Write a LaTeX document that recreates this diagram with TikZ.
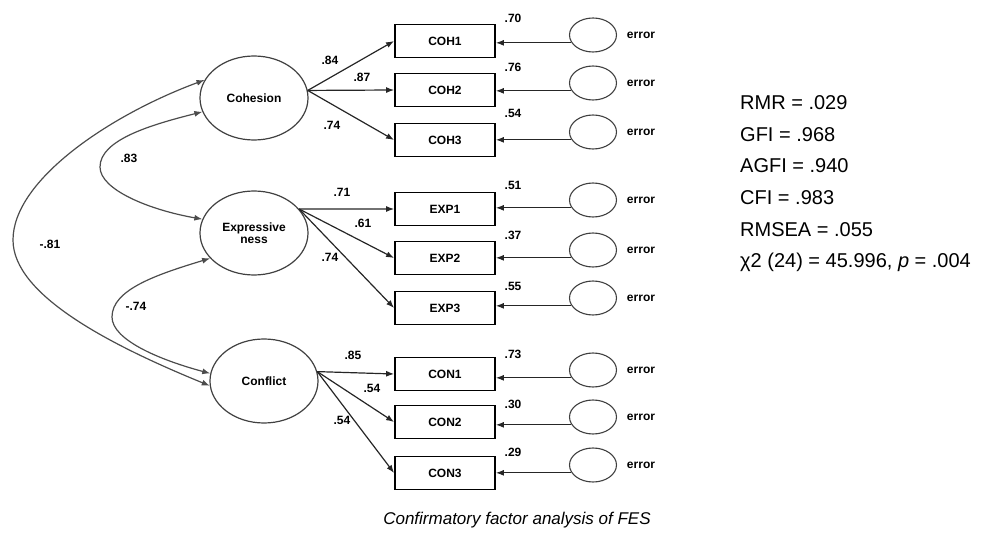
\documentclass[tikz,border=0pt]{standalone}
\usepackage{fontspec}
\setmainfont{Liberation Sans}
\usetikzlibrary{shapes.geometric,arrows.meta}
\begin{document}
\begin{tikzpicture}[x=1pt,y=-1pt,
 lat/.style={ellipse,draw=black!75,line width=1.2pt,minimum width=108pt,minimum height=84pt,inner sep=0pt,font=\bfseries\fontsize{12}{12}\selectfont,align=center},
 obs/.style={rectangle,draw=black,line width=1.8pt,minimum width=100pt,minimum height=33pt,inner sep=0pt,font=\bfseries\fontsize{12}{12}\selectfont},
 errc/.style={ellipse,draw=black!75,line width=1.1pt,minimum width=47pt,minimum height=34pt,inner sep=0pt},
 lbl/.style={font=\bfseries\fontsize{12}{12}\selectfont,inner sep=0pt},
 arr/.style={-{Latex[length=8pt,width=6pt]},line width=1.2pt,draw=black!85},
 cov/.style={{Latex[length=8pt,width=6pt]}-{Latex[length=8pt,width=6pt]},line width=1.2pt,draw=black!70},
 stat/.style={anchor=west,inner sep=0pt,font=\fontsize{20}{20}\selectfont}]
\useasboundingbox (0,0) rectangle (991,540);

% latent variables
\node[lat] (coh) at (254,98) {Cohesion};
\node[lat] (exp) at (254,233) {Expressive\\ness};
\node[lat] (con) at (264,381) {Conflict};

% observed variables
\node[obs] (b1) at (445,41) {COH1};
\node[obs] (b2) at (445,90) {COH2};
\node[obs] (b3) at (445,140) {COH3};
\node[obs] (b4) at (445,209) {EXP1};
\node[obs] (b5) at (445,258) {EXP2};
\node[obs] (b6) at (445,308) {EXP3};
\node[obs] (b7) at (445,374) {CON1};
\node[obs] (b8) at (445,422) {CON2};
\node[obs] (b9) at (445,473) {CON3};

% error terms
\foreach \i/\yy in {1/35,2/83,3/132,4/200,5/250,6/298,7/370,8/417,9/465}{
  \node[errc] (e\i) at (593,\yy) {};
  \node[lbl] (el\i) at (641,\yy) {error};
  \draw[arr] (e\i.200) -- (e\i.200 -| b\i.east);
}

% squared multiple correlations
\node[lbl] (r1) at (513,18) {.70};
\node[lbl] (r2) at (513,67) {.76};
\node[lbl] (r3) at (513,113) {.54};
\node[lbl] (r4) at (513,185) {.51};
\node[lbl] (r5) at (513,235) {.37};
\node[lbl] (r6) at (513,286) {.55};
\node[lbl] (r7) at (513,354) {.73};
\node[lbl] (r8) at (513,404) {.30};
\node[lbl] (r9) at (513,452) {.29};

% loadings
\draw[arr] (coh.8) -- (b1.west);
\draw[arr] (coh.8) -- (b2.west);
\draw[arr] (coh.8) -- (b3.west);
\draw[arr] (exp.28) -- (b4.west);
\draw[arr] (exp.28) -- (b5.west);
\draw[arr] (exp.28) -- (b6.west);
\draw[arr] (con.10) -- (b7.west);
\draw[arr] (con.10) -- (b8.west);
\draw[arr] (con.10) -- (b9.west);

\node[lbl] (l1) at (330,60) {.84};
\node[lbl] (l2) at (362,77) {.87};
\node[lbl] (l3) at (332,125) {.74};
\node[lbl] (l4) at (342,192) {.71};
\node[lbl] (l5) at (363,223) {.61};
\node[lbl] (l6) at (330,257) {.74};
\node[lbl] (l7) at (353,355) {.85};
\node[lbl] (l8) at (372,388) {.54};
\node[lbl] (l9) at (342,420) {.54};

% covariances
\coordinate (t1) at (13,240);
\coordinate (t2) at (100,167);
\coordinate (t3) at (112,317);
\draw[cov] (coh.160) .. controls (110,115) and (13,180) .. (t1) .. controls (13,295) and (110,345) .. (con.185);
\draw[cov] (coh.195) .. controls (150,125) and (100,140) .. (t2) .. controls (100,190) and (150,210) .. (exp.165);
\draw[cov] (exp.210) .. controls (155,275) and (112,290) .. (t3) .. controls (112,340) and (160,360) .. (con.172);
\node[lbl] (c1) at (50,244) {-.81};
\node[lbl] (c2) at (129,158) {.83};
\node[lbl] (c3) at (136,306) {-.74};

% fit statistics
\node[stat] (s1) at (740,103) {RMR = .029};
\node[stat] (s2) at (740,135) {GFI = .968};
\node[stat] (s3) at (740,166) {AGFI = .940};
\node[stat] (s4) at (740,198) {CFI = .983};
\node[stat] (s5) at (740,230) {RMSEA = .055};
\node[stat] (s6) at (740,262) {χ2 (24) = 45.996, \textit{p} = .004};

\node[font=\itshape\fontsize{17}{17}\selectfont,inner sep=0pt] (cap) at (517,520) {Confirmatory factor analysis of FES};
\end{tikzpicture}
\end{document}
